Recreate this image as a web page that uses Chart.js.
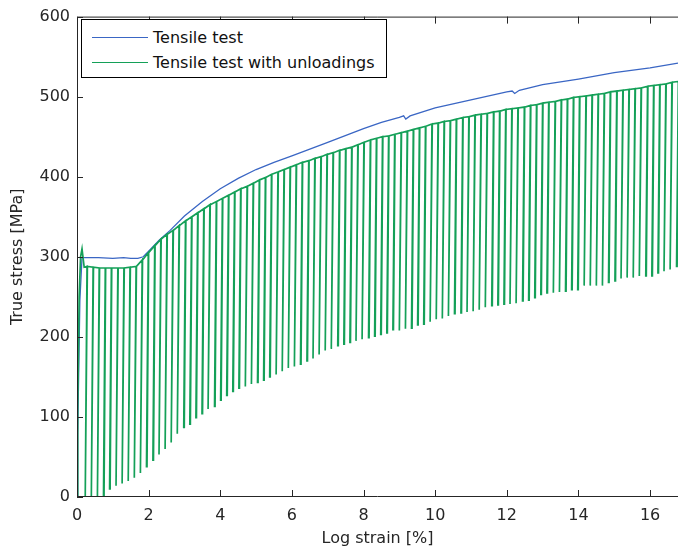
<!DOCTYPE html>
<html>
<head>
<meta charset="utf-8">
<script src="https://cdn.jsdelivr.net/npm/chart.js@4.4.0/dist/chart.umd.min.js"></script>
<style>
  body { margin: 0; background: #fff; }
  #wrap { position: relative; width: 678px; height: 552px; }
  #legend {
    position: absolute; left: 81px; top: 19px; width: 304px; height: 57px;
    border: 1px solid #000; background: #fff;
    font: 16px "DejaVu Sans", sans-serif; color: #111;
  }
  .row { position: absolute; left: 10px; height: 20px; display: flex; align-items: center; white-space: nowrap; }
  .swatch { width: 56px; height: 0; margin-right: 5px; }
</style>
</head>
<body>
<div id="wrap">
  <canvas id="chart" width="678" height="552"></canvas>
  <div id="legend"></div>
</div>
<script>
// axis ticks
const xTicks = [0, 2, 4, 6, 8, 10, 12, 14, 16];
const yTicks = [0, 100, 200, 300, 400, 500, 600];

// Tensile test (monotonic)
const blueStrain = [0, 0.02, 0.08, 0.14, 0.6, 1.0, 1.3, 1.5, 1.7, 1.85, 2.0, 2.3, 2.6, 3.0, 3.5, 4.0, 4.5, 5.0, 5.5, 6.0, 7.0, 8.0, 8.5, 9.0, 9.12, 9.18, 9.3, 10.0, 11.0, 12.0, 12.15, 12.22, 12.35, 13.0, 14.0, 15.0, 16.0, 16.78];
const blueStress = [0, 80, 245, 299, 299, 298, 299, 298, 298, 300, 307, 321, 333, 351, 369, 385, 398, 409, 418, 426, 443, 460, 468, 474, 476, 472, 476, 486, 496, 506, 507, 504, 508, 515, 522, 530, 536, 542];

// Tensile test with unloadings: first loading up to the yield plateau
const loadStrain = [0, 0.02, 0.06, 0.1, 0.14, 0.2];
const loadStress = [0, 110, 250, 300, 310, 287];

// unloading cycles: strain where unloading starts, stress before unloading, lowest stress
const cycleStrain = [0.28, 0.45, 0.62, 0.79, 0.96, 1.14, 1.31, 1.48, 1.65, 1.82,
  1.99, 2.17, 2.34, 2.51, 2.68, 2.85, 3.03, 3.20, 3.37, 3.54,
  3.71, 3.89, 4.06, 4.23, 4.40, 4.57, 4.75, 4.92, 5.09, 5.26,
  5.43, 5.61, 5.78, 5.95, 6.12, 6.29, 6.47, 6.64, 6.81, 6.98,
  7.15, 7.33, 7.50, 7.67, 7.84, 8.01, 8.19, 8.36, 8.53, 8.70,
  8.87, 9.05, 9.22, 9.39, 9.56, 9.73, 9.91, 10.08, 10.25, 10.42,
  10.59, 10.77, 10.94, 11.11, 11.28, 11.45, 11.63, 11.80, 11.97, 12.14,
  12.31, 12.49, 12.66, 12.83, 13.00, 13.17, 13.35, 13.52, 13.69, 13.86,
  14.03, 14.21, 14.38, 14.55, 14.72, 14.89, 15.07, 15.24, 15.41, 15.58,
  15.75, 15.93, 16.10, 16.27, 16.44, 16.61, 16.79];
const cyclePeak = [288, 287, 286, 286, 286, 286, 286, 287, 288, 296,
  305, 314, 322, 328, 333, 339, 345, 350, 355, 360,
  365, 369, 373, 377, 381, 385, 388, 392, 396, 399,
  403, 406, 409, 412, 415, 418, 420, 423, 425, 428,
  430, 433, 435, 437, 440, 443, 446, 448, 450, 451,
  453, 455, 457, 459, 461, 463, 466, 467, 469, 470,
  472, 474, 475, 477, 478, 479, 481, 482, 484, 485,
  486, 487, 489, 490, 492, 493, 494, 496, 497, 499,
  500, 501, 502, 503, 504, 506, 507, 508, 509, 510,
  511, 513, 514, 515, 516, 518, 519];
const cycleMin = [0, 0, 0, 2, 10, 14, 17, 20, 24, 30,
  38, 46, 53, 60, 68, 79, 87, 91, 99, 104,
  110, 113, 121, 127, 132, 136, 138, 141, 143, 146,
  150, 153, 157, 161, 163, 166, 170, 173, 178, 183,
  185, 189, 191, 193, 195, 197, 199, 201, 203, 205,
  209, 208, 210, 211, 215, 216, 219, 222, 223, 226,
  229, 230, 231, 232, 234, 237, 239, 240, 241, 241,
  242, 245, 246, 249, 253, 255, 255, 256, 257, 259,
  259, 264, 264, 264, 264, 268, 270, 273, 274, 274,
  276, 276, 276, 280, 282, 284, 288];

const xMax = 16.78;
const yMax = 600;

const blueColor = '#3a66c4';
const greenColor = '#14a058';
const axisColor = '#262626';
const fontFamily = '"DejaVu Sans", sans-serif';

// build the point lists
let bluePoints = blueStrain.map((x, i) => ({ x: x, y: blueStress[i] }));

let unloadShift = 0.05;
let reloadGap = 0.015;
let greenPoints = loadStrain.map((x, i) => ({ x: x, y: loadStress[i] }));
cycleStrain.forEach((s, i) => {
    greenPoints.push({ x: s, y: cyclePeak[i] });
    greenPoints.push({ x: s - unloadShift, y: cycleMin[i] });
    greenPoints.push({ x: s - unloadShift + reloadGap, y: cycleMin[i] });
    greenPoints.push({ x: s + 0.01, y: cyclePeak[i] });
});

// legend (html)
let legend = document.getElementById('legend');
[['Tensile test', blueColor, 7], ['Tensile test with unloadings', greenColor, 32]].forEach(item => {
    let row = document.createElement('div');
    row.className = 'row';
    row.style.top = item[2] + 'px';
    let sw = document.createElement('span');
    sw.className = 'swatch';
    sw.style.borderTop = '1.5px solid ' + item[1];
    let txt = document.createElement('span');
    txt.textContent = item[0];
    row.appendChild(sw);
    row.appendChild(txt);
    legend.appendChild(row);
});

// box and inward ticks, matlab style
const frame = {
    id: 'frame',
    afterDatasetsDraw(chart) {
        const { ctx, chartArea: a, scales: { x, y } } = chart;
        ctx.save();
        ctx.strokeStyle = axisColor;
        ctx.lineWidth = 1;
        ctx.beginPath();
        ctx.moveTo(a.left + 0.5, a.bottom);
        ctx.lineTo(a.left + 0.5, a.top + 0.5);
        ctx.lineTo(a.right, a.top + 0.5);
        ctx.moveTo(a.left, a.bottom - 0.5);
        ctx.lineTo(a.right, a.bottom - 0.5);
        xTicks.forEach(v => {
            let px = Math.round(x.getPixelForValue(v)) + 0.5;
            ctx.moveTo(px, a.bottom);
            ctx.lineTo(px, a.bottom - 7);
            ctx.moveTo(px, a.top);
            ctx.lineTo(px, a.top + 7);
        });
        yTicks.forEach(v => {
            let py = Math.round(y.getPixelForValue(v)) + 0.5;
            ctx.moveTo(a.left, py);
            ctx.lineTo(a.left + 6, py);
        });
        ctx.stroke();
        ctx.restore();
    }
};

let chart = new Chart(document.getElementById('chart'), {
    type: 'scatter',
    data: {
        datasets: [{
            label: 'Tensile test',
            data: bluePoints,
            showLine: true,
            borderColor: blueColor,
            borderWidth: 1.3,
            pointRadius: 0,
            order: 1
        }, {
            label: 'Tensile test with unloadings',
            data: greenPoints,
            showLine: true,
            borderColor: greenColor,
            borderWidth: 1.7,
            pointRadius: 0,
            order: 0
        }]
    },
    plugins: [frame],
    options: {
        responsive: false,
        devicePixelRatio: 1,
        animation: false,
        layout: { padding: { top: 15, right: 0, left: 0, bottom: 0 } },
        plugins: {
            legend: { display: false },
            tooltip: { enabled: false }
        },
        scales: {
            x: {
                type: 'linear',
                min: 0,
                max: xMax,
                afterBuildTicks: scale => { scale.ticks = xTicks.map(v => ({ value: v })); },
                afterFit: scale => { scale.height = 55; },
                grid: { display: false, drawTicks: false },
                border: { display: false },
                ticks: { color: axisColor, font: { family: fontFamily, size: 16 }, padding: 9, maxRotation: 0, autoSkip: false },
                title: { display: true, text: 'Log strain [%]', color: axisColor, font: { family: fontFamily, size: 16 }, padding: { top: 0, bottom: 4 } }
            },
            y: {
                type: 'linear',
                min: 0,
                max: yMax,
                afterBuildTicks: scale => { scale.ticks = yTicks.map(v => ({ value: v })); },
                afterFit: scale => { scale.width = 77; },
                grid: { display: false, drawTicks: false },
                border: { display: false },
                ticks: { color: axisColor, font: { family: fontFamily, size: 16 }, padding: 7 },
                title: { display: true, text: 'True stress [MPa]', color: axisColor, font: { family: fontFamily, size: 16 }, padding: { top: 8, bottom: 0 } }
            }
        }
    }
});
</script>
</body>
</html>
